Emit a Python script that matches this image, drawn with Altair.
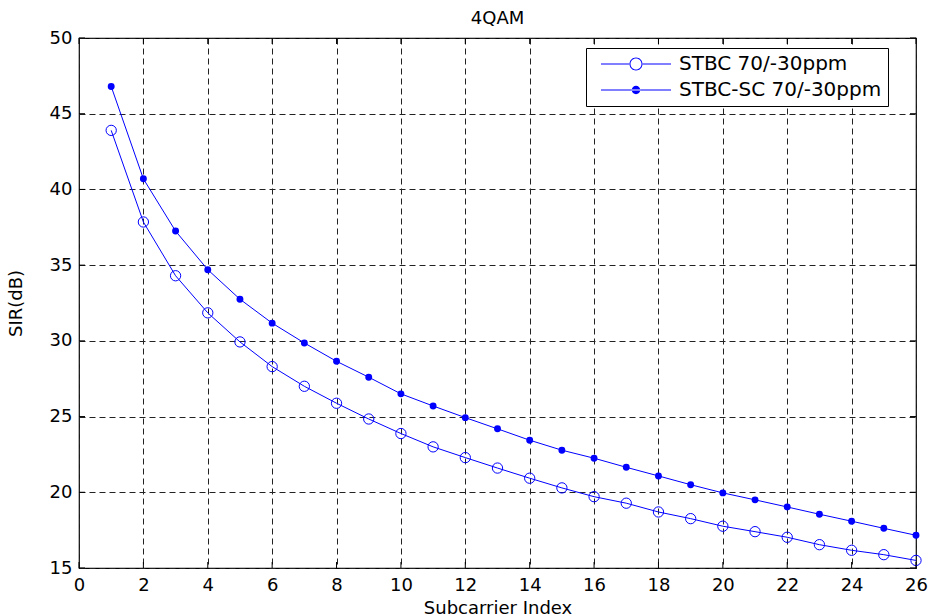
import altair as alt
import pandas as pd

subcarrier = list(range(1, 27))
stbc = [43.9, 37.85, 34.3, 31.85, 29.93, 28.3, 27.0, 25.88, 24.84, 23.88,
        23.0, 22.29, 21.6, 20.93, 20.29, 19.71, 19.28, 18.7, 18.26, 17.76,
        17.4, 17.03, 16.54, 16.17, 15.88, 15.5]
stbc_sc = [46.8, 40.7, 37.25, 34.7, 32.75, 31.17, 29.86, 28.65, 27.6, 26.5,
           25.7, 24.93, 24.19, 23.44, 22.78, 22.25, 21.65, 21.08, 20.5, 19.96,
           19.5, 19.03, 18.55, 18.09, 17.62, 17.16]
series_names = ["STBC 70/-30ppm", "STBC-SC 70/-30ppm"]
x_ticks = list(range(0, 27, 2))
y_ticks = list(range(15, 51, 5))

FONT = "DejaVu Sans"
BLUE = "#0000ff"

df = pd.DataFrame({
    "x": subcarrier * 2,
    "y": stbc + stbc_sc,
    "series": [series_names[0]] * len(stbc) + [series_names[1]] * len(stbc_sc),
})
xt = pd.DataFrame({"t": x_ticks})
yt = pd.DataFrame({"t": y_ticks})

xscale = alt.Scale(domain=[0, 26], nice=False, zero=False)
yscale = alt.Scale(domain=[15, 50], nice=False, zero=False)

xaxis = alt.Axis(values=x_ticks, title="Subcarrier Index", grid=True, domain=False,
                 tickSize=0, labelPadding=8, labelFontSize=18, labelFont=FONT,
                 labelColor="black", titleFontSize=18, titleFont=FONT,
                 titleFontWeight="normal", titleColor="black",
                 titleX=418.5, titleY=45, titleBaseline="alphabetic",
                 titleAlign="center", gridDash=[6, 4], gridColor="#222",
                 gridOpacity=1, labelFlush=False)
yaxis = alt.Axis(values=y_ticks, title="SIR(dB)", grid=True, domain=False,
                 tickSize=0, labelPadding=7, labelFontSize=18, labelFont=FONT,
                 labelColor="black", titleFontSize=18, titleFont=FONT,
                 titleFontWeight="normal", titleColor="black",
                 titleX=-63, titleY=265, titleAngle=270, titleBaseline="middle",
                 titleAlign="center", gridDash=[6, 4], gridColor="#222",
                 gridOpacity=1, labelFlush=False)

base = alt.Chart(df)

lines = base.mark_line(color=BLUE, strokeWidth=1).encode(
    x=alt.X("x:Q", scale=xscale, axis=xaxis),
    y=alt.Y("y:Q", scale=yscale, axis=yaxis),
    detail="series:N",
)

open_pts = base.transform_filter(
    alt.datum.series == series_names[0]
).mark_point(shape="circle", size=106, stroke=BLUE, strokeWidth=1,
             filled=False, opacity=1).encode(
    x=alt.X("x:Q", scale=xscale),
    y=alt.Y("y:Q", scale=yscale),
)

dot_pts = base.transform_filter(
    alt.datum.series == series_names[1]
).mark_point(shape="circle", size=48, color=BLUE, filled=True, opacity=1).encode(
    x=alt.X("x:Q", scale=xscale),
    y=alt.Y("y:Q", scale=yscale),
)

# legend glyphs drawn only with fill: thin bar for the line, ring / disc for the marker
bar_l = "M -3.5 -0.05 L -0.62 -0.05 L -0.62 0.05 L -3.5 0.05 Z "
bar_r = "M 0.62 -0.05 L 3.5 -0.05 L 3.5 0.05 L 0.62 0.05 Z "
ring = ("M 0.65 0 A 0.65 0.65 0 1 0 -0.65 0 A 0.65 0.65 0 1 0 0.65 0 Z "
        "M 0.55 0 A 0.55 0.55 0 1 1 -0.55 0 A 0.55 0.55 0 1 1 0.55 0 Z")
bar_full = "M -3.5 -0.05 L 3.5 -0.05 L 3.5 0.05 L -3.5 0.05 Z "
disc = "M 0.42 0 A 0.42 0.42 0 1 0 -0.42 0 A 0.42 0.42 0 1 0 0.42 0 Z"
path_open = bar_l + bar_r + ring
path_dot = bar_full + disc

legend = alt.Legend(title=None, orient="none", legendX=507, legendY=10,
                    symbolSize=400, symbolStrokeWidth=0, symbolFillColor=BLUE,
                    symbolOpacity=1,
                    padding=6, rowPadding=6, strokeColor="black", fillColor="white",
                    labelFont=FONT, labelFontSize=20, labelColor="black",
                    labelLimit=500,
                    symbolOffset=34, labelOffset=33, cornerRadius=0)

legend_layer = base.transform_filter("false").mark_point(
    filled=True, color=BLUE, opacity=1, strokeWidth=0
).encode(
    x=alt.X("x:Q", scale=xscale),
    y=alt.Y("y:Q", scale=yscale),
    shape=alt.Shape("series:N", scale=alt.Scale(domain=series_names,
                                                range=[path_open, path_dot]),
                    legend=legend),
)

top_ticks = alt.Chart(xt).mark_rule(color="black", strokeWidth=1).encode(
    x=alt.X("t:Q", scale=xscale), y=alt.value(0), y2=alt.value(6))
bot_ticks = alt.Chart(xt).mark_rule(color="black", strokeWidth=1).encode(
    x=alt.X("t:Q", scale=xscale), y=alt.value(530), y2=alt.value(524))
left_ticks = alt.Chart(yt).mark_rule(color="black", strokeWidth=1).encode(
    y=alt.Y("t:Q", scale=yscale), x=alt.value(0), x2=alt.value(6))
right_ticks = alt.Chart(yt).mark_rule(color="black", strokeWidth=1).encode(
    y=alt.Y("t:Q", scale=yscale), x=alt.value(837), x2=alt.value(831))

chart = alt.layer(
    lines, open_pts, dot_pts, legend_layer,
    top_ticks, bot_ticks, left_ticks, right_ticks,
).properties(
    width=837,
    height=530,
    padding={"left": 79, "top": 38, "right": 15, "bottom": 48},
    autosize=alt.AutoSizeParams(type="none"),
    title=alt.TitleParams("4QAM", fontSize=18, font=FONT, fontWeight="normal",
                          color="black", offset=1, anchor="middle", frame="group"),
    background="white",
).configure_view(
    stroke="black", strokeWidth=1.2
)

chart.save("out.html", embed_options={"renderer": "svg", "actions": False})
